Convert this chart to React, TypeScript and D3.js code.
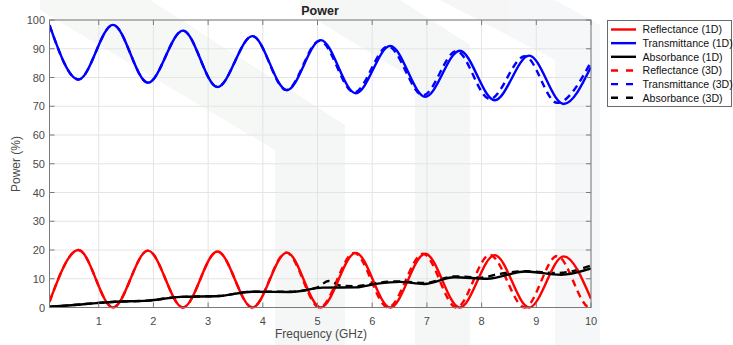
import React from 'react';
import * as d3 from 'd3';

const W = 733;
const H = 345;
const FONT = "'Liberation Sans', Arial, Helvetica, sans-serif";

const xTicks = [1, 2, 3, 4, 5, 6, 7, 8, 9, 10];
const yTicks = [0, 10, 20, 30, 40, 50, 60, 70, 80, 90, 100];

// Reflectance (1D): extrema
const refl1DFreq = [0.1, 0.63, 1.26, 1.9, 2.54, 3.17, 3.81, 4.44, 5.06, 5.7, 6.33, 6.97, 7.6, 8.24, 8.87, 9.5, 10];
const refl1DVal = [2, 20, 0, 19.8, 0, 19.5, 0, 19.1, 0, 19.0, 0, 18.7, 0, 18.2, 0, 17.8, 3];

// Transmittance (1D)
const trans1DFreq = [0.1, 0.63, 1.26, 1.9, 2.54, 3.17, 3.81, 4.44, 5.06, 5.7, 6.33, 6.97, 7.6, 8.24, 8.87, 9.5, 10];
const trans1DVal = [98.2, 79.3, 98.3, 78.2, 96.3, 76.7, 94.4, 75.6, 93.0, 74.5, 91.0, 73.3, 89.3, 72.1, 87.6, 70.8, 83.7];

// Absorbance (1D)
const abs1DFreq = [0.1, 0.5, 1.0, 1.3, 1.9, 2.5, 3.2, 3.8, 4.5, 5.1, 5.7, 6.1, 6.5, 6.95, 7.5, 8.1, 8.8, 9.45, 10];
const abs1DVal = [0.3, 0.8, 1.6, 2.0, 2.4, 3.7, 4.0, 5.5, 5.4, 6.9, 7.0, 8.3, 8.9, 8.2, 10.5, 10.0, 12.5, 11.4, 13.6];

// Reflectance (3D)
const refl3DFreq = [0.1, 0.63, 1.26, 1.9, 2.54, 3.17, 3.81, 4.43, 5.04, 5.67, 6.29, 6.93, 7.54, 8.15, 8.79, 9.38, 9.98, 10];
const refl3DVal = [2, 20, 0, 19.8, 0, 19.5, 0, 19.1, 0, 19.0, 0, 18.7, 0, 18.3, 0, 17.9, 0, 0.4];

// Transmittance (3D)
const trans3DFreq = [0.1, 0.63, 1.26, 1.9, 2.54, 3.17, 3.81, 4.43, 5.04, 5.67, 6.29, 6.93, 7.54, 8.15, 8.79, 9.38, 10];
const trans3DVal = [98.2, 79.3, 98.3, 78.2, 96.3, 76.7, 94.4, 75.6, 92.8, 74.8, 90.8, 73.8, 89.2, 72.5, 87.4, 71.2, 85.4];

// Absorbance (3D)
const abs3DFreq = [0.1, 0.5, 1.0, 1.3, 1.9, 2.5, 3.2, 3.8, 4.5, 5.0, 5.2, 5.45, 5.7, 6.1, 6.5, 6.95, 7.5, 8.0, 8.3, 8.8, 9.4, 10];
const abs3DVal = [0.3, 0.8, 1.6, 2.0, 2.4, 3.7, 4.0, 5.5, 5.5, 7.0, 9.2, 7.5, 7.4, 8.6, 9.1, 8.5, 10.8, 10.4, 11.6, 12.6, 12.0, 14.6];

const legendLabels = [
  'Reflectance (1D)',
  'Transmittance (1D)',
  'Absorbance (1D)',
  'Reflectance (3D)',
  'Transmittance (3D)',
  'Absorbance (3D)',
];

const series = [
  { fx: refl1DFreq, vy: refl1DVal, color: '#ff0000', dashed: false },
  { fx: trans1DFreq, vy: trans1DVal, color: '#0000ff', dashed: false },
  { fx: abs1DFreq, vy: abs1DVal, color: '#000000', dashed: false },
  { fx: refl3DFreq, vy: refl3DVal, color: '#ff0000', dashed: true },
  { fx: trans3DFreq, vy: trans3DVal, color: '#0000ff', dashed: true },
  { fx: abs3DFreq, vy: abs3DVal, color: '#000000', dashed: true },
];

export default function App() {
  const left = 49.5, right = 591, top = 20, bottom = 307.5;
  const x = d3.scaleLinear().domain([0.1, 10]).range([left, right]);
  const y = d3.scaleLinear().domain([0, 100]).range([bottom, top]);
  const line = d3
    .line<[number, number]>()
    .x((d) => x(d[0]))
    .y((d) => y(d[1]))
    .curve(d3.curveMonotoneX);

  const axisColor = '#7a7a7a';
  const textColor = '#4a4a4a';
  const gridColor = '#e4e4e4';

  const drawOrder = [3, 4, 5, 0, 1, 2];

  return (
    <div style={{ position: 'absolute', left: 0, top: 0 }}>
      <svg width={W} height={H} style={{ display: 'block', background: '#ffffff' }}>
        <defs>
          <clipPath id="plotclip">
            <rect x={left} y={top - 2} width={right - left} height={bottom - top + 4} />
          </clipPath>
        </defs>
        {/* faint watermark shapes */}
        <g opacity={0.75}>
          <polygon points="40,0 150,0 345,125 345,345 275,345 275,150 40,10" fill="#f1f5f2" />
          <polygon points="300,0 400,0 470,45 470,345 415,345 415,80 300,10" fill="#f2f4f3" />
          <polygon points="440,0 555,0 600,25 600,345 555,345 555,60 440,0" fill="#f3f4f5" />
        </g>
        {/* grid */}
        {xTicks.map((t) => (
          <line key={'gx' + t} x1={x(t)} x2={x(t)} y1={top} y2={bottom} stroke={gridColor} strokeWidth={1} />
        ))}
        {yTicks.map((t) => (
          <line key={'gy' + t} x1={left} x2={right} y1={y(t)} y2={y(t)} stroke={gridColor} strokeWidth={1} />
        ))}
        {/* data */}
        <g clipPath="url(#plotclip)">
          {drawOrder.map((i) => {
            const s = series[i];
            const pts = s.fx.map((f, k) => [f, s.vy[k]] as [number, number]);
            return (
              <path
                key={'s' + i}
                d={line(pts) || ''}
                fill="none"
                stroke={s.color}
                strokeWidth={2.4}
                strokeDasharray={s.dashed ? '7,5' : undefined}
                strokeLinejoin="round"
              />
            );
          })}
        </g>
        {/* axes box */}
        <rect x={left} y={top} width={right - left} height={bottom - top} fill="none" stroke={axisColor} strokeWidth={1} />
        {xTicks.map((t) => (
          <g key={'tx' + t}>
            <line x1={x(t)} x2={x(t)} y1={bottom} y2={bottom - 5} stroke={axisColor} />
            <line x1={x(t)} x2={x(t)} y1={top} y2={top + 5} stroke={axisColor} />
            <text x={x(t)} y={325} textAnchor="middle" fontFamily={FONT} fontSize={11} fill={textColor}>
              {t}
            </text>
          </g>
        ))}
        {yTicks.map((t) => (
          <g key={'ty' + t}>
            <line x1={left} x2={left + 5} y1={y(t)} y2={y(t)} stroke={axisColor} />
            <line x1={right} x2={right - 5} y1={y(t)} y2={y(t)} stroke={axisColor} />
            <text x={45} y={y(t) + 4} textAnchor="end" fontFamily={FONT} fontSize={11} fill={textColor}>
              {t}
            </text>
          </g>
        ))}
        <text x={320} y={15} textAnchor="middle" fontFamily={FONT} fontSize={12.5} fontWeight="bold" fill="#222">
          Power
        </text>
        <text x={321} y={338} textAnchor="middle" fontFamily={FONT} fontSize={12} fill={textColor}>
          Frequency (GHz)
        </text>
        <text
          transform="translate(20,164) rotate(-90)"
          textAnchor="middle"
          fontFamily={FONT}
          fontSize={12}
          fill={textColor}
        >
          Power (%)
        </text>
        {/* legend */}
        <rect x={607.5} y={20.5} width={124} height={86} fill="#ffffff" stroke="#6a6a6a" strokeWidth={1} />
        {legendLabels.map((lab, i) => {
          const s = series[i];
          const cy = 29.5 + i * 13.65;
          return (
            <g key={'lg' + i}>
              <line
                x1={611}
                x2={636}
                y1={cy}
                y2={cy}
                stroke={s.color}
                strokeWidth={2.4}
                strokeDasharray={s.dashed ? '7,8' : undefined}
              />
              <text x={642.5} y={cy + 3.8} fontFamily={FONT} fontSize={10.6} fill="#111">
                {lab}
              </text>
            </g>
          );
        })}
      </svg>
    </div>
  );
}
